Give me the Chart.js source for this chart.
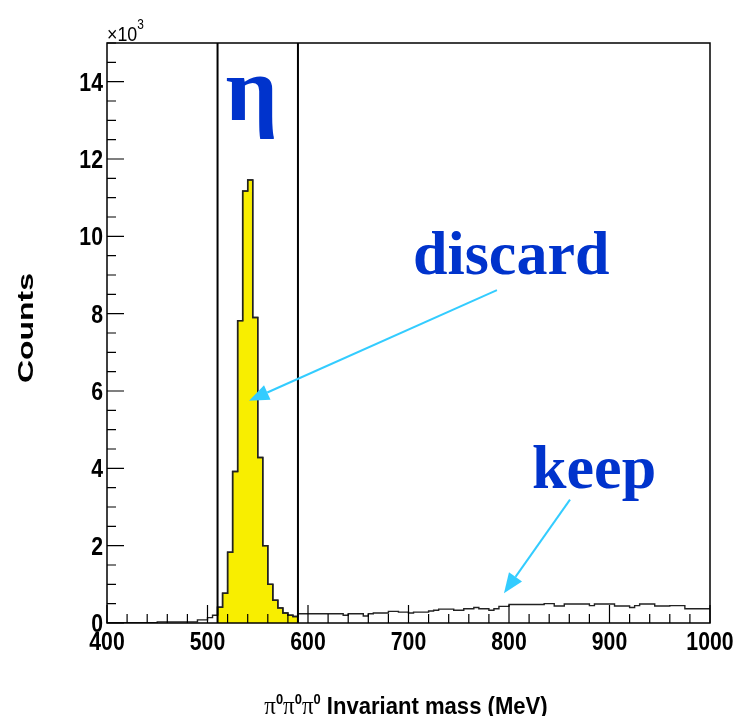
<!DOCTYPE html>
<html>
<head>
<meta charset="utf-8">
<script src="https://cdn.jsdelivr.net/npm/chart.js@4.4.0/dist/chart.umd.min.js"></script>
<style>
  html, body { margin: 0; padding: 0; background: #fff; }
</style>
</head>
<body>
<canvas id="chart" width="736" height="716"></canvas>
<script>
// bin edges (MeV) and counts per bin (x10^3)
const massEdges = [400, 450, 490, 500, 505,
  510, 515, 520, 525, 530, 535, 540, 545, 550, 555, 560, 565, 570, 575, 580, 585, 590,
  635, 640, 655, 660, 665, 680, 690, 700, 705, 720,
  725, 730, 745, 755, 765, 770, 780, 785, 790, 800,
  835, 845, 855, 880, 885, 905, 920, 925, 930, 945,
  960, 975, 985, 1000];
const counts = [0, 0.01, 0.03, 0.08, 0.14,
  0.20, 0.41, 0.77, 1.83, 3.92, 7.82, 11.17, 11.46, 7.90, 4.28, 2.00, 1.00, 0.59, 0.39, 0.26, 0.20,
  0.17, 0.24, 0.20, 0.24, 0.18, 0.24, 0.26, 0.30, 0.28, 0.26,
  0.28, 0.31, 0.33, 0.36, 0.33, 0.37, 0.40, 0.37, 0.33, 0.37,
  0.43, 0.48, 0.50, 0.44, 0.49, 0.45, 0.49, 0.44, 0.40, 0.45,
  0.49, 0.44, 0.45, 0.37];
const cutLow = 510;
const cutHigh = 590;
const xTicks = [400, 500, 600, 700, 800, 900, 1000];
const yTicks = [0, 2, 4, 6, 8, 10, 12, 14];

const blue = '#0033cc';
const cyan = '#33ccff';
const sans = "'Liberation Sans', Arial, sans-serif";

// histogram as step points
let histPts = [];
for (let i = 0; i < counts.length; i++) histPts.push({x: massEdges[i], y: counts[i]});
histPts.push({x: massEdges[massEdges.length - 1], y: counts[counts.length - 1]});
let peakPts = histPts.filter(p => p.x >= cutLow && p.x <= cutHigh);

// text squeezed/stretched horizontally like the ROOT fonts
function sText(ctx, txt, x, y, sx, align) {
  let w = ctx.measureText(txt).width * sx;
  let x0 = align === 'center' ? x - w / 2 : align === 'right' ? x - w : x;
  ctx.save();
  ctx.translate(x0, y);
  ctx.scale(sx, 1);
  ctx.textAlign = 'left';
  ctx.fillText(txt, 0, 0);
  ctx.restore();
  return w;
}

const frame = {
  id: 'frame',
  afterDatasetsDraw(chart) {
    const {ctx, chartArea: a, scales: {x, y}} = chart;
    ctx.save();
    ctx.strokeStyle = '#000';
    ctx.lineWidth = 1.5;
    ctx.strokeRect(a.left, a.top, a.right - a.left, a.bottom - a.top);
    ctx.lineWidth = 1.2;
    ctx.beginPath();
    for (let v = 400; v <= 1000; v += 20) {
      let px = x.getPixelForValue(v);
      let len = xTicks.includes(v) ? 18 : 9;
      ctx.moveTo(px, a.bottom); ctx.lineTo(px, a.bottom - len);
    }
    for (let v = 0; v <= 15; v += 0.5) {
      let py = y.getPixelForValue(v);
      let len = yTicks.includes(v) ? 17 : 9;
      ctx.moveTo(a.left, py); ctx.lineTo(a.left + len, py);
    }
    ctx.stroke();

    // tick labels
    ctx.fillStyle = '#000';
    ctx.font = 'bold 25px ' + sans;
    ctx.textBaseline = 'alphabetic';
    xTicks.forEach(v => sText(ctx, String(v), x.getPixelForValue(v), a.bottom + 27, 0.85, 'center'));
    yTicks.forEach(v => sText(ctx, String(v), a.left - 4, y.getPixelForValue(v) + 9, 0.85, 'right'));

    // axis titles
    ctx.font = '21px ' + sans;
    let w = sText(ctx, '\u00d710', a.left, a.top - 2, 0.85, 'left');
    ctx.font = '14px ' + sans;
    sText(ctx, '3', a.left + w, a.top - 14, 0.85, 'left');

    ctx.save();
    ctx.translate(33, 328);
    ctx.rotate(-Math.PI / 2);
    ctx.font = 'bold 22px ' + sans;
    sText(ctx, 'Counts', 0, 0, 110 / ctx.measureText('Counts').width, 'center');
    ctx.restore();

    // pi0 pi0 pi0 Invariant mass (MeV)
    const parts = [
      ['\u03c0', '25px "Liberation Serif", serif', 0],
      ['0', 'bold 14px ' + sans, -10],
      ['\u03c0', '25px "Liberation Serif", serif', 0],
      ['0', 'bold 14px ' + sans, -10],
      ['\u03c0', '25px "Liberation Serif", serif', 0],
      ['0', 'bold 14px ' + sans, -10],
      [' Invariant mass (MeV)', 'bold 24px ' + sans, 0]
    ];
    let total = 0;
    parts.forEach(p => { ctx.font = p[1]; total += ctx.measureText(p[0]).width * 0.92; });
    let cx = 406 - total / 2;
    parts.forEach(p => {
      ctx.font = p[1];
      cx += sText(ctx, p[0], cx, 714 + p[2], 0.92, 'left');
    });

    // annotations
    function arrow(x0, y0, x1, y1) {
      let p0 = [x.getPixelForValue(x0), y.getPixelForValue(y0)];
      let p1 = [x.getPixelForValue(x1), y.getPixelForValue(y1)];
      let ang = Math.atan2(p1[1] - p0[1], p1[0] - p0[0]);
      let hl = 20, hw = 8;
      let bx = p1[0] - hl * Math.cos(ang), by = p1[1] - hl * Math.sin(ang);
      ctx.strokeStyle = cyan;
      ctx.fillStyle = cyan;
      ctx.lineWidth = 2;
      ctx.beginPath();
      ctx.moveTo(p0[0], p0[1]); ctx.lineTo(bx, by);
      ctx.stroke();
      ctx.beginPath();
      ctx.moveTo(p1[0], p1[1]);
      ctx.lineTo(bx + hw * Math.sin(ang), by - hw * Math.cos(ang));
      ctx.lineTo(bx - hw * Math.sin(ang), by + hw * Math.cos(ang));
      ctx.closePath();
      ctx.fill();
    }
    arrow(788, 8.61, 541.3, 5.75);
    arrow(860.7, 3.19, 795, 0.77);

    ctx.fillStyle = blue;
    ctx.font = 'bold 92px "Liberation Serif", serif';
    ctx.textAlign = 'center';
    ctx.fillText('\u03b7', x.getPixelForValue(544), y.getPixelForValue(13.0));
    ctx.textAlign = 'left';
    ctx.font = 'bold 62px "Liberation Serif", serif';
    ctx.fillText('discard', x.getPixelForValue(704.5), y.getPixelForValue(9.02));
    ctx.fillText('keep', x.getPixelForValue(823), y.getPixelForValue(3.5));
    ctx.restore();
  }
};

new Chart(document.getElementById('chart'), {
  type: 'line',
  data: {
    datasets: [
      {
        data: peakPts,
        stepped: 'after',
        fill: 'origin',
        backgroundColor: '#f8ee00',
        borderColor: '#222',
        borderWidth: 1.5,
        pointRadius: 0,
        order: 3
      },
      {
        data: histPts,
        stepped: 'after',
        fill: false,
        borderColor: '#222',
        borderWidth: 1.4,
        pointRadius: 0,
        order: 2
      },
      {
        data: [{x: cutLow, y: 0}, {x: cutLow, y: 15}],
        borderColor: '#000',
        borderWidth: 2,
        pointRadius: 0,
        order: 1
      },
      {
        data: [{x: cutHigh, y: 0}, {x: cutHigh, y: 15}],
        borderColor: '#000',
        borderWidth: 2,
        pointRadius: 0,
        order: 1
      }
    ]
  },
  options: {
    responsive: false,
    animation: false,
    layout: { padding: { top: 43, right: 26, left: 0, bottom: 0 } },
    plugins: { legend: { display: false }, tooltip: { enabled: false } },
    scales: {
      x: {
        type: 'linear',
        min: 400,
        max: 1000,
        grid: { display: false, drawTicks: false },
        border: { display: false },
        ticks: { display: false, stepSize: 100 },
        afterFit: s => { s.height = 93; s.paddingLeft = 0; s.paddingRight = 0; }
      },
      y: {
        min: 0,
        max: 15,
        grid: { display: false, drawTicks: false },
        border: { display: false },
        ticks: { display: false, stepSize: 2 },
        afterFit: s => { s.width = 107; s.paddingTop = 0; s.paddingBottom = 0; }
      }
    }
  },
  plugins: [frame]
});
</script>
</body>
</html>
